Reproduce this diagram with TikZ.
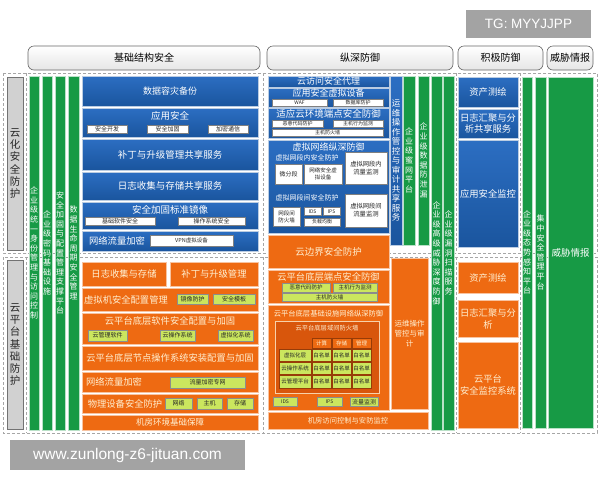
\documentclass[tikz,border=0pt]{standalone}
\usepackage{fontspec}
\setmainfont{Noto Sans CJK SC}
\newfontfamily\wmfont{Liberation Sans}
\definecolor{bluec}{HTML}{1A559E}
\definecolor{bluet}{HTML}{2C6EC2}
\definecolor{orgc}{HTML}{EE6A12}
\definecolor{orgd}{HTML}{D8560C}
\definecolor{grnc}{HTML}{179A45}
\definecolor{lgc}{HTML}{CBE65E}
\definecolor{cream}{HTML}{FFF0D2}
\definecolor{wmgray}{HTML}{A3A3A3}
\newcommand\fs[2]{\fontsize{#1}{#2}\selectfont}
% vertical text: one character per line
\def\vtA#1{#1\futurelet\vtnext\vtB}
\def\vtB{\ifx\vtnext\relax\expandafter\vtEnd\else\expandafter\vtC\fi}
\def\vtC{\\\vtA}
\def\vtEnd\relax{}
\newcommand\vt[1]{\vtA#1\relax}
% box from corners
\newcommand\bx[7][]{\node[#1,minimum width={(#5-#3)*1pt},minimum height={(#6-#4)*1pt}] (#2) at ({(#3+#5)/2},{(#4+#6)/2}) {#7};}
\newcommand\lb[5][]{\node[#1] (#2) at (#3,#4) {#5};}
\tikzset{
 base/.style={inner sep=0pt, outer sep=0pt, align=center},
 blu/.style={base, top color=bluet, bottom color=bluec, draw=white!70!bluec, line width=0.6pt, text=white, font=\fs{9}{10.5}},
 org/.style={base, fill=orgc, draw=white!60!orgc, line width=0.6pt, text=cream, font=\fs{9.3}{11}},
 orgin/.style={base, fill=orgd, draw=cream!80!orgd, line width=0.5pt, text=cream, font=\fs{6.5}{8}},
 grn/.style={base, fill=grnc, draw=white!70!grnc, line width=0.4pt, text=white, font=\fs{8}{9.6}},
 wb/.style={base, fill=white, draw=black!50, line width=0.3pt, text=black!85, font=\fs{6}{7}},
 lg/.style={base, fill=lgc, draw=black!45, line width=0.3pt, text=black!85, font=\fs{6}{7}},
 tb/.style={base, fill=lgc, draw=orgd!70!black, line width=0.4pt, text=black!85, font=\fs{5.5}{6.5}},
 tbh/.style={base, fill=orgc, draw=orgd!70!black, line width=0.4pt, text=cream, font=\fs{5.5}{6.5}},
 wlab/.style={base, text=white},
 olab/.style={base, text=cream},
 hdr/.style={base, draw=black!60, line width=0.6pt, rounded corners=6pt, top color=white, bottom color=black!10, font=\fs{10}{12}, text=black},
 sect/.style={draw=black!35, dash pattern=on 3pt off 2pt, line width=0.9pt},
 side/.style={base, fill=black!18, draw=black!55, line width=0.6pt, font=\fs{10.5}{12.3}, text=black!85},
 wm/.style={base, fill=wmgray, text=white},
}
\begin{document}
\begin{tikzpicture}[x=1pt,y=-1pt]
\useasboundingbox (0,0) rectangle (600,480);
\fill[white] (0,0) rectangle (600,480);

% watermarks
\bx[wm,font=\wmfont\fontsize{13.5}{15}\selectfont]{wmtop}{466}{10}{591}{38}{TG: MYYJJPP}
\bx[wm,font=\wmfont\fontsize{15.5}{17}\selectfont]{wmbot}{10}{440}{245}{470}{www.zunlong-z6-jituan.com}

% headers
\bx[hdr]{h1}{28}{46}{260}{70}{基础结构安全}
\bx[hdr]{h2}{267}{46}{453}{70}{纵深防御}
\bx[hdr]{h3}{458}{46}{543}{70}{积极防御}
\bx[hdr]{h4}{547}{46}{593}{70}{威胁情报}

% dashed sections
\draw[sect] (3,73) rectangle (597,253);
\draw[sect] (3,257) rectangle (597,433);
\foreach \xx in {26,263,456,520}{
  \draw[sect] (\xx,73) -- (\xx,253);
  \draw[sect] (\xx,257) -- (\xx,433);
}

% side labels
\bx[side]{s1}{7}{77}{23}{250}{\vt{云化安全防护}}
\bx[side]{s2}{7}{260}{23}{429}{\vt{云平台基础防护}}

% left green bars
\bx[grn]{g1}{29}{76}{39}{430}{\vt{企业级统一身份管理与访问控制}}
\bx[grn]{g2}{42}{76}{52}{430}{\vt{企业级密码基础设施}}
\bx[grn]{g3}{55}{76}{65}{430}{\vt{安全加固与配置管理支撑平台}}
\bx[grn]{g4}{68}{76}{79}{430}{\vt{数据生命周期安全管理}}

% left blue blocks
\bx[blu]{b1}{82}{76}{258}{106}{数据容灾备份}
\bx[blu]{b2}{82}{108}{258}{137}{}
\lb[wlab,font=\fs{9.5}{11}]{b2t}{170}{116}{应用安全}
\bx[wb]{b2a}{87}{125}{127}{133.5}{安全开发}
\bx[wb]{b2b}{147}{125}{188}{133.5}{安全加固}
\bx[wb]{b2c}{208}{125}{248}{133.5}{加密通信}
\bx[blu,font=\fs{9.5}{11}]{b3}{82}{139}{258}{170}{补丁与升级管理共享服务}
\bx[blu,font=\fs{9.5}{11}]{b4}{82}{172}{258}{200}{日志收集与存储共享服务}
\bx[blu]{b5}{82}{202}{258}{229}{}
\lb[wlab,font=\fs{9.5}{11}]{b5t}{170}{209.5}{安全加固标准镜像}
\bx[wb]{b5a}{85}{217}{155}{225.5}{基础软件安全}
\bx[wb]{b5b}{178}{217}{245}{225.5}{操作系统安全}
\bx[blu]{b6}{82}{231}{258}{251}{}
\lb[wlab,font=\fs{9.3}{11}]{b6t}{117}{241}{网络流量加密}
\bx[wb,font=\fs{5.5}{6.5}]{b6a}{150}{235}{233}{246.5}{VPN虚拟设备}

% left orange blocks
\bx[org]{o1}{82}{262}{166}{286}{日志收集与存储}
\bx[org]{o2}{170}{262}{258}{286}{补丁与升级管理}
\bx[org]{o3}{82}{288}{258}{311}{}
\lb[olab,font=\fs{9.3}{11}]{o3t}{126}{299.5}{虚拟机安全配置管理}
\bx[lg]{o3a}{177}{294}{208}{304.5}{镜像防护}
\bx[lg]{o3b}{213}{294}{255}{304.5}{安全模板}
\bx[org]{o4}{82}{313}{258}{344}{}
\lb[olab,font=\fs{9.3}{11}]{o4t}{170}{321}{云平台底层软件安全配置与加固}
\bx[lg]{o4a}{88}{330}{127}{341}{云管理软件}
\bx[lg]{o4b}{160}{330}{195}{341}{云操作系统}
\bx[lg]{o4c}{218}{330}{253}{341}{虚拟化系统}
\bx[org]{o5}{82}{346}{258}{370}{云平台底层节点操作系统安装配置与加固}
\bx[org]{o6}{82}{372}{258}{392}{}
\lb[olab,font=\fs{9.3}{11}]{o6t}{114}{382}{网络流量加密}
\bx[lg]{o6a}{170}{377}{245}{388}{流量加密专网}
\bx[org]{o7}{82}{394}{258}{413}{}
\lb[olab,font=\fs{9.3}{11}]{o7t}{125}{403.5}{物理设备安全防护}
\bx[lg]{o7a}{165}{398}{192}{409}{网络}
\bx[lg]{o7b}{197}{398}{222}{409}{主机}
\bx[lg]{o7c}{227}{398}{253}{409}{存储}
\bx[org,font=\fs{8.5}{10}]{o8}{82}{415}{258}{430}{机房环境基础保障}

% middle blue blocks
\bx[blu]{m1}{268}{76}{389}{87}{云访问安全代理}
\bx[blu]{m2}{268}{88}{389}{107}{}
\lb[wlab,font=\fs{9}{10}]{m2t}{328.5}{93.5}{应用安全虚拟设备}
\bx[wb,font=\fs{5}{6}]{m2a}{272}{99.5}{327}{106}{WAF}
\bx[wb,font=\fs{5}{6}]{m2b}{333}{99.5}{383}{106}{数据库防护}
\bx[blu]{m3}{268}{108}{389}{138}{}
\lb[wlab,font=\fs{9.5}{10.5}]{m3t}{328.5}{114}{适应云环境端点安全防御}
\bx[wb,font=\fs{5}{6}]{m3a}{272}{120}{323}{127}{恶意代码防护}
\bx[wb,font=\fs{5}{6}]{m3b}{333}{120}{383}{127}{主机行为监测}
\bx[wb,font=\fs{5}{6}]{m3c}{272}{129}{383}{136}{主机防火墙}
\bx[blu]{m4}{268}{140}{389}{233}{}
\lb[wlab,font=\fs{9}{10}]{m4t}{328.5}{147}{虚拟网络纵深防御}
\lb[wlab,font=\fs{7}{8}]{m4l1}{307}{158}{虚拟网段内安全防护}
\bx[wb]{m4a}{275}{164}{302}{184}{微分段}
\bx[wb,font=\fs{5.5}{7}]{m4b}{304}{164}{342}{184}{网络安全虚\\拟设备}
\bx[wb,font=\fs{6.3}{8}]{m4c}{345}{152}{387}{184}{虚拟网段内\\流量监测}
\lb[wlab,font=\fs{7}{8}]{m4l2}{307}{198}{虚拟网段间安全防护}
\bx[wb,font=\fs{5.5}{7}]{m4d}{273}{207}{300}{226}{网段间\\防火墙}
\bx[wb,font=\fs{5}{6}]{m4e}{304}{207}{321}{215.5}{IDS}
\bx[wb,font=\fs{5}{6}]{m4f}{323}{207}{340}{215.5}{IPS}
\bx[wb,font=\fs{5}{6}]{m4g}{304}{218}{340}{226}{负载均衡}
\bx[wb,font=\fs{6.3}{8}]{m4h}{345}{194}{387}{227}{虚拟网段间\\流量监测}
\bx[blu,font=\fs{8.5}{9.5}]{m5}{390}{76}{402}{245}{\vt{运维操作管控与审计共享服务}}

% middle green bars
\bx[grn]{g5}{403}{76}{415}{245}{\vt{企业级蜜网平台}}
\bx[grn]{g6}{418}{76}{429}{245}{\vt{企业级数据防泄漏}}
\bx[grn]{g7}{431}{76}{442}{430}{\vt{企业级高级威胁深度防御}}
\bx[grn]{g8}{443}{76}{454}{430}{\vt{企业级漏洞扫描服务}}

% middle orange blocks
\bx[org,font=\fs{9.5}{11}]{mo1}{268}{235}{389}{268}{云边界安全防护}
\bx[org]{mo2}{268}{270}{389}{303}{}
\lb[olab,font=\fs{9.3}{11}]{mo2t}{328.5}{277}{云平台底层端点安全防御}
\bx[lg,font=\fs{5.5}{6.5}]{mo2a}{282}{283}{330}{292}{恶意代码防护}
\bx[lg,font=\fs{5.5}{6.5}]{mo2b}{333}{283}{377}{292}{主机行为监测}
\bx[lg,font=\fs{5.5}{6.5}]{mo2c}{282}{293.5}{377}{301}{主机防火墙}
\bx[org]{mo3}{268}{305}{389}{410}{}
\lb[olab,font=\fs{7.3}{8.5}]{mo3t}{328.5}{314}{云平台底层基础设施网络纵深防御}
\bx[orgin]{mo3in}{275}{321}{379}{393}{}
\lb[olab,font=\fs{6.3}{7.5}]{mo3it}{327}{328.5}{云平台底层域间防火墙}
\bx[tbh]{th1}{312}{338}{331}{348}{计算}
\bx[tbh]{th2}{332}{338}{351}{348}{存储}
\bx[tbh]{th3}{352}{338}{371}{348}{管理}
\bx[tb]{tr1}{279}{349}{311}{361}{虚拟化层}
\bx[tb]{tr1a}{312}{349}{331}{361}{白名单}
\bx[tb]{tr1b}{332}{349}{351}{361}{白名单}
\bx[tb]{tr1c}{352}{349}{371}{361}{白名单}
\bx[tb]{tr2}{279}{362}{311}{374}{云操作系统}
\bx[tb]{tr2a}{312}{362}{331}{374}{白名单}
\bx[tb]{tr2b}{332}{362}{351}{374}{白名单}
\bx[tb]{tr2c}{352}{362}{371}{374}{白名单}
\bx[tb]{tr3}{279}{375}{311}{388}{云管理平台}
\bx[tb]{tr3a}{312}{375}{331}{388}{白名单}
\bx[tb]{tr3b}{332}{375}{351}{388}{白名单}
\bx[tb]{tr3c}{352}{375}{371}{388}{白名单}
\bx[lg,font=\fs{5}{6}]{mo3a}{273}{397}{297}{406.5}{IDS}
\bx[lg,font=\fs{5}{6}]{mo3b}{317}{397}{342}{406.5}{IPS}
\bx[lg,font=\fs{6}{7}]{mo3c}{350}{397}{378}{406.5}{流量监测}
\bx[org,font=\fs{7.5}{10}]{mo4}{391}{258}{428}{409}{运维操作\\管控与审\\计}
\bx[org,font=\fs{7.3}{9}]{mo5}{268}{412}{428}{429}{机房访问控制与安防监控}

% right column
\bx[blu,font=\fs{9.3}{11}]{r1}{458}{77}{518}{107}{资产测绘}
\bx[blu,font=\fs{9.3}{11.5}]{r2}{458}{109}{518}{138}{日志汇聚与分\\析共享服务}
\bx[blu,font=\fs{9.3}{11}]{r3}{458}{140}{518}{247}{应用安全监控}
\bx[org]{r4}{458}{262}{518}{293}{资产测绘}
\bx[org,font=\fs{9.3}{12}]{r5}{458}{300}{518}{337}{日志汇聚与分\\析}
\bx[org,font=\fs{9.3}{12.5}]{r6}{458}{342}{518}{428}{云平台\\安全监控系统}
\bx[grn]{g9}{522}{77}{532}{428}{\vt{企业级态势感知平台}}
\bx[grn]{g10}{535}{77}{546}{428}{\vt{集中安全管理平台}}
\bx[grn,font=\fs{9.5}{11}]{g11}{548}{77}{593}{428}{威胁情报}
\end{tikzpicture}
\end{document}
